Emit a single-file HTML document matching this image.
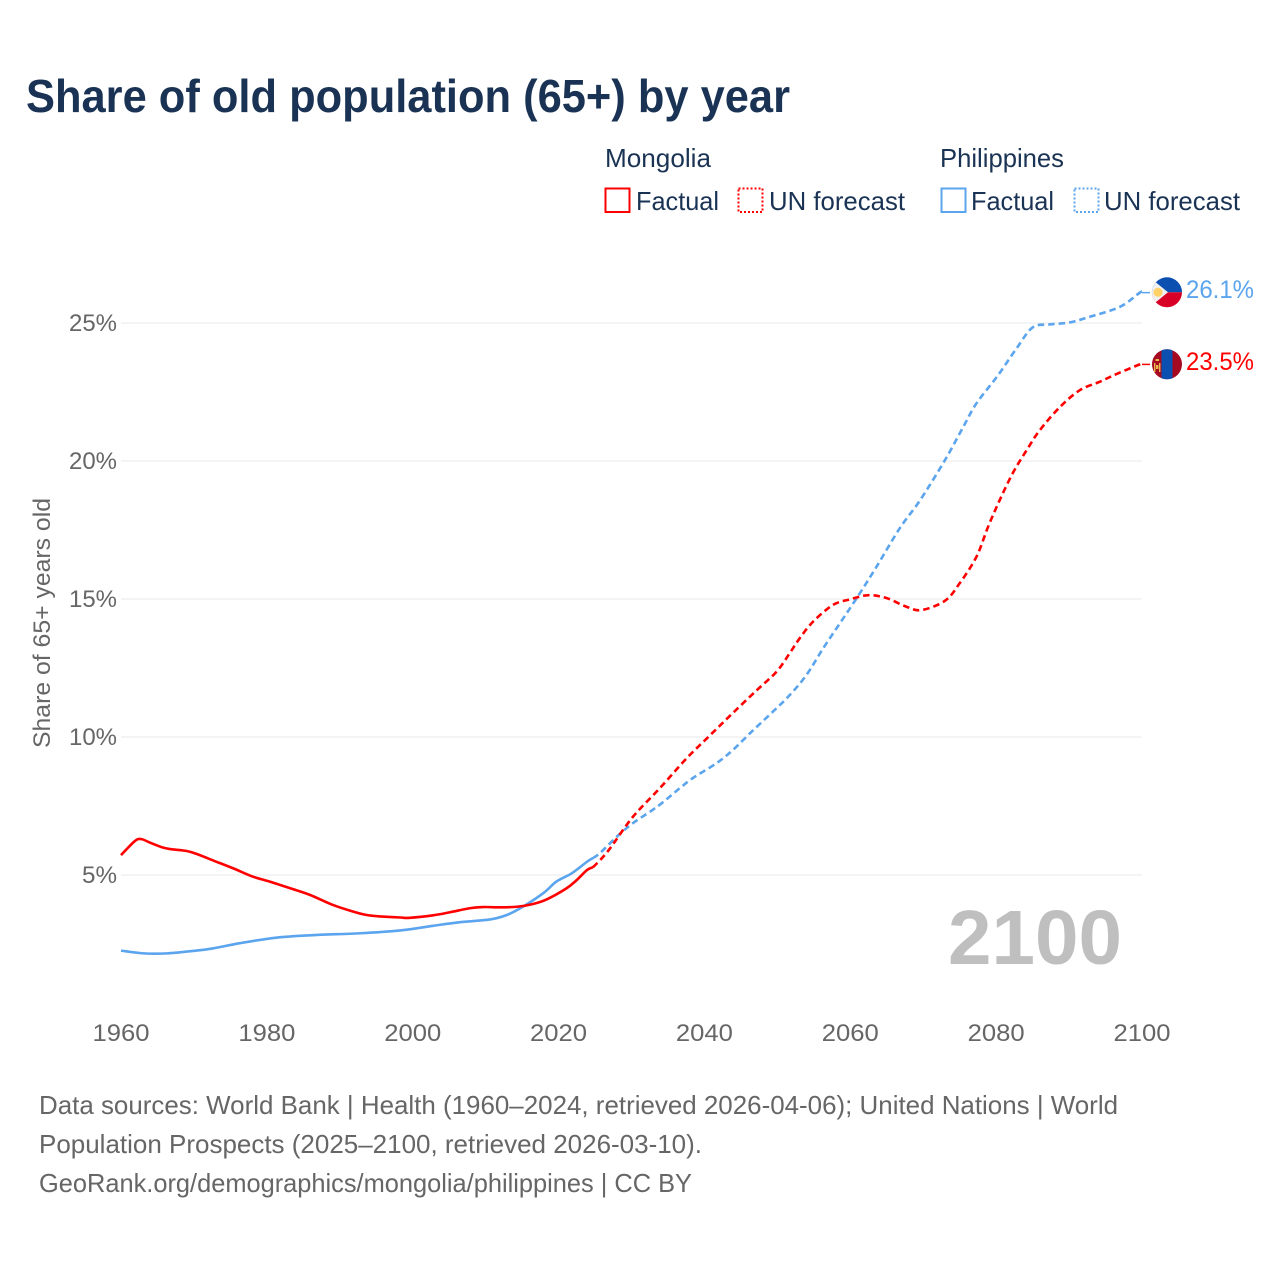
<!DOCTYPE html>
<html lang="en">
<head>
<meta charset="utf-8">
<title>Share of old population (65+) by year</title>
<style>
html,body{margin:0;padding:0;background:#fff;width:1280px;height:1280px;overflow:hidden}
svg{display:block;font-family:"Liberation Sans",sans-serif}
</style>
</head>
<body>
<svg id="chart" xmlns="http://www.w3.org/2000/svg" width="1280" height="1280" viewBox="0 0 1280 1280">
  <rect width="1280" height="1280" fill="#fff"/>
  <text x="26" y="112" font-size="46" font-weight="700" fill="#1a3354" textLength="764" lengthAdjust="spacingAndGlyphs">Share of old population (65+) by year</text>

  <g font-size="26" fill="#1a3354">
    <text x="605" y="167" textLength="106" lengthAdjust="spacingAndGlyphs">Mongolia</text>
    <rect x="605.5" y="188.5" width="24" height="23.5" fill="none" stroke="#ff0000" stroke-width="2"/>
    <text x="636" y="210" textLength="83" lengthAdjust="spacingAndGlyphs">Factual</text>
    <rect x="738.5" y="188.5" width="24" height="23.5" fill="none" stroke="#ff0000" stroke-width="2" stroke-dasharray="2 2"/>
    <text x="769" y="210" textLength="136" lengthAdjust="spacingAndGlyphs">UN forecast</text>
    <text x="940" y="167" textLength="124" lengthAdjust="spacingAndGlyphs">Philippines</text>
    <rect x="941.5" y="188.5" width="24" height="23.5" fill="none" stroke="#5ba4ee" stroke-width="2"/>
    <text x="971" y="210" textLength="83" lengthAdjust="spacingAndGlyphs">Factual</text>
    <rect x="1074.5" y="188.5" width="24" height="23.5" fill="none" stroke="#5ba4ee" stroke-width="2" stroke-dasharray="2 2"/>
    <text x="1104" y="210" textLength="136" lengthAdjust="spacingAndGlyphs">UN forecast</text>
  </g>

  <g id="grid"></g>
  <g id="yticks" font-size="24" fill="#666"></g>
  <g id="xticks" font-size="24" fill="#666"></g>
  <text transform="translate(50,623) rotate(-90)" text-anchor="middle" font-size="24" fill="#666" textLength="250" lengthAdjust="spacingAndGlyphs">Share of 65+ years old</text>

  <text x="948" y="964" font-size="77" font-weight="700" fill="#bfbfbf" textLength="174" lengthAdjust="spacingAndGlyphs">2100</text>

  <g id="series"></g>

  <g>
    <clipPath id="clip-ph"><circle cx="1167" cy="292.3" r="15"/></clipPath>
    <g clip-path="url(#clip-ph)">
      <rect x="1150" y="276" width="34" height="16.3" fill="#0b4fb0"/>
      <rect x="1150" y="292.3" width="34" height="16.3" fill="#d80027"/>
      <polygon points="1146,274.3 1168,292.3 1146,310.3" fill="#f0f0f0"/>
      <circle cx="1158" cy="292.3" r="4.5" fill="#ffd166"/>
    </g>
  </g>
  <g>
    <clipPath id="clip-mn"><circle cx="1167" cy="364.3" r="15"/></clipPath>
    <g clip-path="url(#clip-mn)">
      <rect x="1150" y="348" width="34" height="33" fill="#a50a20"/>
      <rect x="1161.5" y="348" width="11" height="33" fill="#0b4fb0"/>
      <rect x="1154" y="363" width="1.4" height="9" fill="#e8b84a"/>
      <rect x="1159" y="363" width="1.4" height="9" fill="#e8b84a"/>
      <rect x="1155.5" y="359" width="3.5" height="2" fill="#e8b84a"/>
      <rect x="1156" y="365" width="2.5" height="4" fill="#e8b84a"/>
    </g>
  </g>

  <text x="1186" y="298" font-size="25" fill="#5ba4ee" textLength="68" lengthAdjust="spacingAndGlyphs">26.1%</text>
  <text x="1186" y="370" font-size="25" fill="#ff0000" textLength="68" lengthAdjust="spacingAndGlyphs">23.5%</text>

  <g font-size="26" fill="#666">
    <text x="39" y="1114" textLength="1079" lengthAdjust="spacingAndGlyphs">Data sources: World Bank | Health (1960–2024, retrieved 2026-04-06); United Nations | World</text>
    <text x="39" y="1153" textLength="663" lengthAdjust="spacingAndGlyphs">Population Prospects (2025–2100, retrieved 2026-03-10).</text>
    <text x="39" y="1192" textLength="653" lengthAdjust="spacingAndGlyphs">GeoRank.org/demographics/mongolia/philippines | CC BY</text>
  </g>
</svg>
<script>
const xTickYears = [1960, 1980, 2000, 2020, 2040, 2060, 2080, 2100];
const yTickValues = [5, 10, 15, 20, 25];

const mongoliaFactualYears = [1960,1961.9,1962.8,1964,1965.8,1967,1969,1970.4,1972.7,1975.4,1978.1,1980.4,1983.2,1985.9,1989.1,1991.9,1993.7,1995.5,1998.3,1999.6,2002.8,2005.1,2007.9,2009.6,2012,2014.3,2016.5,2018.4,2021.1,2022.5,2023.9,2024.7];
const mongoliaFactualValues = [5.72,6.23,6.30,6.17,5.99,5.93,5.87,5.76,5.52,5.24,4.94,4.76,4.52,4.28,3.91,3.67,3.55,3.50,3.46,3.45,3.54,3.65,3.80,3.84,3.83,3.85,3.95,4.12,4.52,4.82,5.18,5.28];
const mongoliaForecastYears = [2024.7,2025.7,2027.1,2030.2,2033.9,2037.6,2040.8,2043.9,2047.2,2049.9,2051.7,2053.1,2054.9,2057.6,2060,2062.5,2065,2067.7,2069.8,2073,2075,2077.3,2078.9,2080.5,2082.3,2084.2,2086,2088.8,2091.5,2094.2,2096.5,2099.7,2100];
const mongoliaForecastValues = [5.28,5.54,5.98,7.11,8.15,9.24,10.07,10.87,11.70,12.37,13.04,13.59,14.18,14.78,14.99,15.14,15.03,14.72,14.60,14.94,15.57,16.53,17.62,18.59,19.57,20.40,21.12,21.97,22.57,22.87,23.15,23.50,23.50];

const philippinesFactualYears = [1960,1963.1,1966.3,1969.9,1972.6,1976.3,1981.3,1986.3,1992.8,1998.3,2002.8,2006.5,2010.6,2012.9,2015.1,2017.9,2019.7,2021.8,2023.9,2024.7];
const philippinesFactualValues = [2.26,2.16,2.16,2.25,2.34,2.53,2.73,2.82,2.89,2.99,3.16,3.29,3.39,3.55,3.85,4.34,4.76,5.06,5.48,5.61];
const philippinesForecastYears = [2024.7,2025.7,2028,2030.2,2033.5,2036.6,2038.4,2041.7,2043.9,2046.7,2049.4,2051.7,2054,2056.3,2058.6,2060.9,2063.6,2066.8,2069.6,2073,2075.5,2077.3,2080.1,2082.8,2085,2087.4,2090.1,2092.9,2097,2099.7,2100];
const philippinesForecastValues = [5.61,5.80,6.39,6.88,7.47,8.14,8.51,9.06,9.53,10.25,10.92,11.52,12.25,13.22,14.13,15.04,16.17,17.57,18.59,20.04,21.24,22.09,23.05,24.08,24.84,24.95,25.02,25.23,25.59,26.10,26.10];

const SVGNS = 'http://www.w3.org/2000/svg';
function xScale(year) { return 121 + (year - 1960) * (1142 - 121) / 140; }
function yScale(value) { return 875 - (value - 5) * 27.6; }

function smoothPath(years, values) {
  const p = years.map(function (yr, i) { return [xScale(yr), yScale(values[i])]; });
  let d = 'M' + p[0][0].toFixed(2) + ' ' + p[0][1].toFixed(2);
  for (let i = 0; i < p.length - 1; i++) {
    const a = p[Math.max(i - 1, 0)], b = p[i], c = p[i + 1], e = p[Math.min(i + 2, p.length - 1)];
    const c1x = b[0] + (c[0] - a[0]) / 6, c1y = b[1] + (c[1] - a[1]) / 6;
    const c2x = c[0] - (e[0] - b[0]) / 6, c2y = c[1] - (e[1] - b[1]) / 6;
    d += 'C' + c1x.toFixed(2) + ' ' + c1y.toFixed(2) + ' ' + c2x.toFixed(2) + ' ' + c2y.toFixed(2) + ' ' + c[0].toFixed(2) + ' ' + c[1].toFixed(2);
  }
  return d;
}

const gridGroup = document.getElementById('grid');
const yGroup = document.getElementById('yticks');
yTickValues.forEach(function (v) {
  const line = document.createElementNS(SVGNS, 'line');
  
  
  line.setAttribute('x1', xScale(1960));
  line.setAttribute('x2', xScale(2100));
  line.setAttribute('y1', yScale(v));
  line.setAttribute('y2', yScale(v));
  line.setAttribute('stroke', '#e8e8e8');
  line.setAttribute('stroke-width', '1');
  gridGroup.appendChild(line);

  const label = document.createElementNS(SVGNS, 'text');
  
  
  label.setAttribute('x', 117);
  label.setAttribute('y', yScale(v) + 8);
  label.setAttribute('text-anchor', 'end');
  label.setAttribute('textLength', v < 10 ? 35 : 48);
  label.setAttribute('lengthAdjust', 'spacingAndGlyphs');
  label.textContent = v + '%';
  yGroup.appendChild(label);
});

const xGroup = document.getElementById('xticks');
xTickYears.forEach(function (yr) {
  const label = document.createElementNS(SVGNS, 'text');
  
  
  label.setAttribute('x', xScale(yr));
  label.setAttribute('y', 1041);
  label.setAttribute('text-anchor', 'middle');
  label.setAttribute('textLength', 57);
  label.setAttribute('lengthAdjust', 'spacingAndGlyphs');
  label.textContent = yr;
  xGroup.appendChild(label);
});

const seriesGroup = document.getElementById('series');
function addLine(name, years, values, color, dashed) {
  const path = document.createElementNS(SVGNS, 'path');
  
  
  path.setAttribute('d', smoothPath(years, values));
  path.setAttribute('fill', 'none');
  path.setAttribute('stroke', color);
  path.setAttribute('stroke-width', '2.6');
  path.setAttribute('stroke-linejoin', 'round');
  if (dashed) path.setAttribute('stroke-dasharray', '6.5 4');
  seriesGroup.appendChild(path);
}
function addConnector(name, value, color) {
  const line = document.createElementNS(SVGNS, 'line');
  
  
  line.setAttribute('x1', xScale(2100));
  line.setAttribute('x2', 1150);
  line.setAttribute('y1', yScale(value));
  line.setAttribute('y2', yScale(value));
  line.setAttribute('stroke', color);
  line.setAttribute('stroke-width', '1.5');
  seriesGroup.appendChild(line);
}
addLine('philippines-factual-line', philippinesFactualYears, philippinesFactualValues, '#5ba4ee', false);
addLine('philippines-forecast-line', philippinesForecastYears, philippinesForecastValues, '#5ba4ee', true);
addLine('mongolia-factual-line', mongoliaFactualYears, mongoliaFactualValues, '#ff0000', false);
addLine('mongolia-forecast-line', mongoliaForecastYears, mongoliaForecastValues, '#ff0000', true);
addConnector('philippines-end-connector', philippinesForecastValues[philippinesForecastValues.length - 1], '#5ba4ee');
addConnector('mongolia-end-connector', mongoliaForecastValues[mongoliaForecastValues.length - 1], '#ff0000');
</script>
</body>
</html>
